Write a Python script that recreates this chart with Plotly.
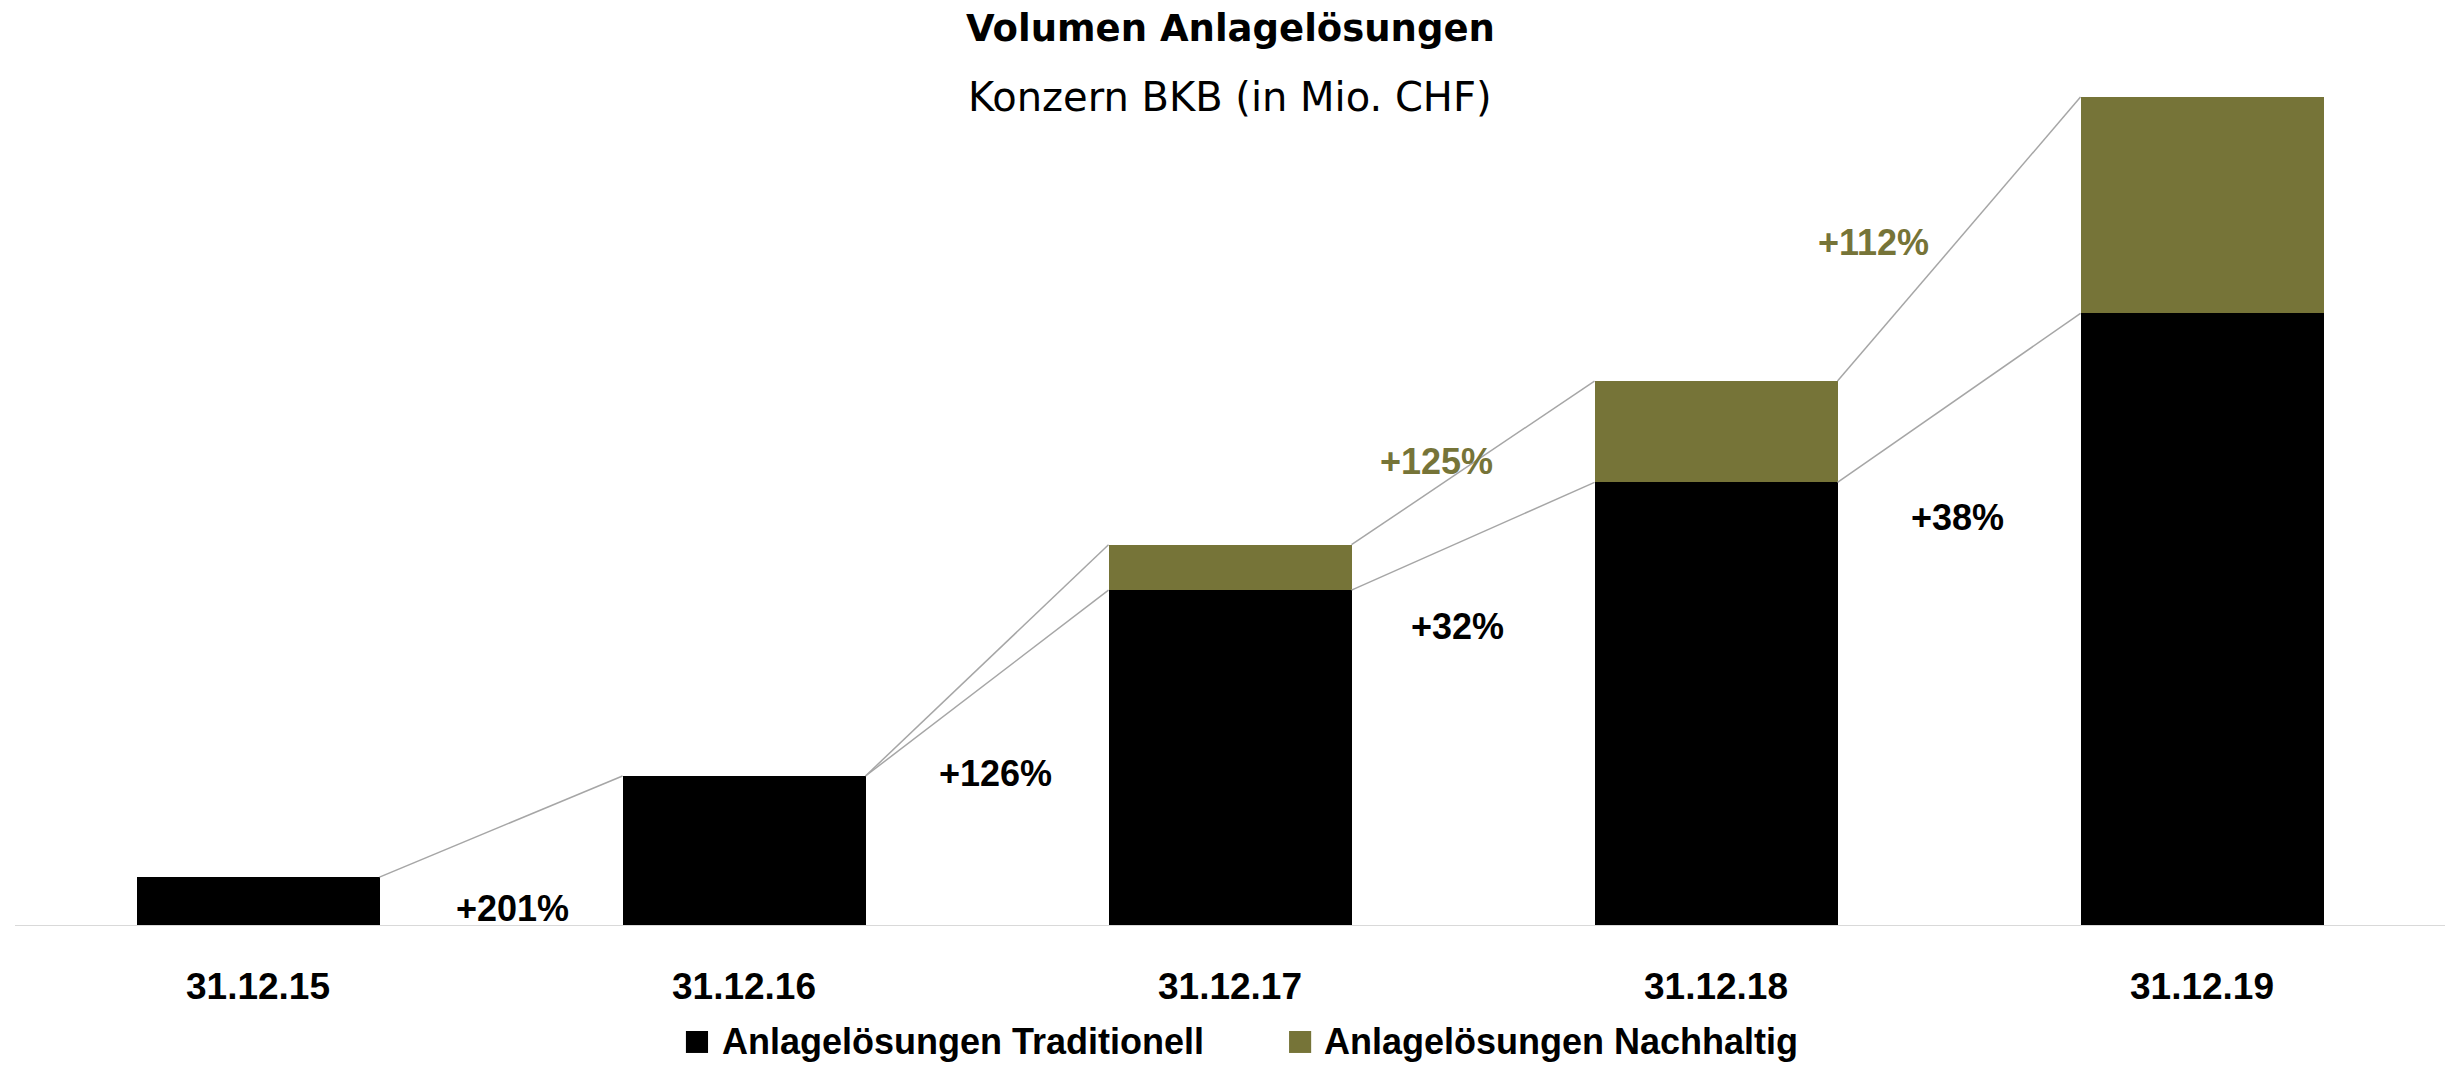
import plotly.graph_objects as go

# ---------------- data ----------------
categories = ["31.12.15", "31.12.16", "31.12.17", "31.12.18", "31.12.19"]
traditionell = [489, 1500, 3359, 4436, 6126]
nachhaltig = [0, 0, 454, 1013, 2163]
growth_trad = ["+201%", "+126%", "+32%", "+38%"]
growth_nach = ["+125%", "+112%"]
series_names = ["Anlagelösungen Traditionell", "Anlagelösungen Nachhaltig"]

# label positions (data coordinates)
trad_label_x = [0.523, 1.518, 2.469, 3.496]
trad_label_y = [180, 1530, 3000, 4090]
nach_label_x = [2.424, 3.325]
nach_label_y = [4650, 6840]

BLACK = "#000000"
OLIVE = "#767438"
GREY = "#a6a6a6"
FONT = "Liberation Sans"
TFONT = "DejaVu Sans"

x = list(range(len(categories)))
totals = [t + n for t, n in zip(traditionell, nachhaltig)]
BW = 0.5

fig = go.Figure()
fig.add_trace(go.Bar(x=x, y=traditionell, width=BW, marker=dict(color=BLACK, line=dict(width=0)),
                     name=series_names[0], showlegend=False))
fig.add_trace(go.Bar(x=x, y=nachhaltig, width=BW, marker=dict(color=OLIVE, line=dict(width=0)),
                     name=series_names[1], showlegend=False))

# connector lines
for i in range(len(x) - 1):
    fig.add_trace(go.Scatter(x=[x[i] + BW / 2, x[i + 1] - BW / 2], y=[traditionell[i], traditionell[i + 1]],
                             mode="lines", line=dict(color=GREY, width=1.5), showlegend=False, hoverinfo="skip"))
    if nachhaltig[i + 1] > 0:
        fig.add_trace(go.Scatter(x=[x[i] + BW / 2, x[i + 1] - BW / 2], y=[totals[i], totals[i + 1]],
                                 mode="lines", line=dict(color=GREY, width=1.5), showlegend=False, hoverinfo="skip"))

annotations = []
for lx, ly, t in zip(trad_label_x, trad_label_y, growth_trad):
    annotations.append(dict(x=lx, y=ly, xref="x", yref="y", text=t, showarrow=False,
                            font=dict(family=FONT, size=36, color=BLACK, weight="bold")))
for lx, ly, t in zip(nach_label_x, nach_label_y, growth_nach):
    annotations.append(dict(x=lx, y=ly, xref="x", yref="y", text=t, showarrow=False,
                            font=dict(family=FONT, size=36, color=OLIVE, weight="bold")))

annotations.append(dict(x=0.5, y=1.0126, xref="paper", yref="paper", text="<b>Volumen Anlagelösungen</b>",
                        showarrow=False, xanchor="center", yanchor="middle",
                        font=dict(family=TFONT, size=37, color=BLACK)))
annotations.append(dict(x=0.5, y=0.936, xref="paper", yref="paper", text="Konzern BKB (in Mio. CHF)",
                        showarrow=False, xanchor="center", yanchor="middle",
                        font=dict(family=TFONT, size=40, color=BLACK)))

# manual legend (square swatches + labels)
legend_colors = [BLACK, OLIVE]
legend_sq_x0 = [0.2761, 0.5243]
legend_sq_w = 0.0091
legend_txt_x = [0.2901, 0.5379]
legend_y = -0.1309
legend_sq_h = 0.0248
shapes = [dict(type="line", xref="paper", yref="y", x0=0, x1=1, y0=0, y1=0,
               line=dict(color="#d9d9d9", width=2))]
for name, col, sx, tx in zip(series_names, legend_colors, legend_sq_x0, legend_txt_x):
    shapes.append(dict(type="rect", xref="paper", yref="paper", x0=sx, x1=sx + legend_sq_w,
                       y0=legend_y - legend_sq_h / 2, y1=legend_y + legend_sq_h / 2,
                       fillcolor=col, line=dict(width=0)))
    annotations.append(dict(x=tx, y=legend_y, xref="paper", yref="paper", text=name, showarrow=False,
                            xanchor="left", yanchor="middle",
                            font=dict(family=FONT, size=36, color=BLACK, weight="bold")))

fig.update_layout(
    width=2450, height=1066,
    margin=dict(l=15, r=5, t=40, b=140),
    barmode="stack",
    plot_bgcolor="white", paper_bgcolor="white",
    showlegend=False,
    annotations=annotations,
    shapes=shapes,
)
fig.update_xaxes(range=[-0.5, 4.5], tickvals=x, ticktext=categories, showgrid=False, zeroline=False,
                 showline=False, ticks="", ticklabelstandoff=35,
                 tickfont=dict(family=FONT, size=37, color=BLACK, weight="bold"))
fig.update_yaxes(range=[0, 8860], showgrid=False, zeroline=False, showticklabels=False, showline=False)

fig.write_html("out.html", config={"displayModeBar": False},
               post_script="document.body.style.margin='0px';")
